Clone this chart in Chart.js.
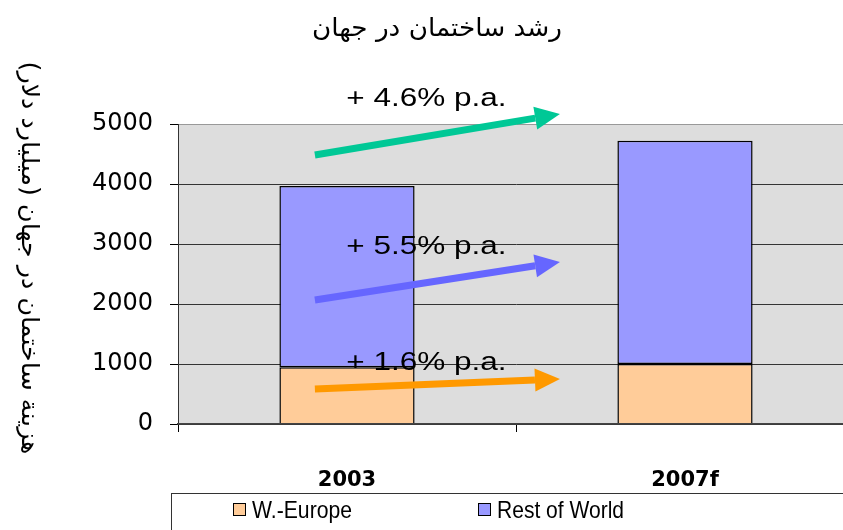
<!DOCTYPE html>
<html>
<head>
<meta charset="utf-8">
<script src="https://cdn.jsdelivr.net/npm/chart.js@4.4.1/dist/chart.umd.min.js"></script>
<style>
  html, body { margin: 0; padding: 0; background: #fff; overflow: hidden; }
  #wrap { width: 860px; height: 530px; }
</style>
</head>
<body>
<div id="wrap"><canvas id="chart" width="860" height="530"></canvas></div>
<script>
// data
const categories = ['2003', '2007f'];
const wEurope = [945, 1000];
const restOfWorld = [3020, 3720];
const yTicks = [0, 1000, 2000, 3000, 4000, 5000];
const growthLabels = ['+ 4.6% p.a.', '+ 5.5% p.a.', '+ 1.6% p.a.'];

const chartTitle = 'رشد ساختمان در جهان';
const yTitle = 'هزينة ساختمان در جهان (ميليارد دلار)';

// growth arrows, in axis units (category index, value)
const arrows = [
  { label: growthLabels[0], color: '#00C896', from: [-0.095, 4483], to: [0.63, 5167], text: [0.235, 5420] },
  { label: growthLabels[1], color: '#6666FF', from: [-0.095, 2067], to: [0.63, 2700], text: [0.235, 2950] },
  { label: growthLabels[2], color: '#FF9900', from: [-0.095, 583], to: [0.63, 750], text: [0.235, 1015] }
];

// fill the plot area grey
const plotBackground = {
  id: 'plotBackground',
  beforeDraw(chart) {
    const { ctx, chartArea: a } = chart;
    ctx.save();
    ctx.fillStyle = '#DDDDDD';
    ctx.fillRect(a.left, a.top, a.right - a.left, a.bottom - a.top);
    ctx.restore();
  }
};

// draw text squeezed/stretched to a given width
function fitText(ctx, text, x, y, width, font, rotate) {
  ctx.save();
  ctx.font = font;
  const w = ctx.measureText(text).width;
  ctx.translate(x, y);
  if (rotate) ctx.rotate(rotate);
  ctx.scale(width / w, 1);
  ctx.textAlign = 'center';
  ctx.textBaseline = 'middle';
  ctx.fillStyle = '#000';
  ctx.fillText(text, 0, 0);
  ctx.restore();
}

const growthArrows = {
  id: 'growthArrows',
  afterDatasetsDraw(chart) {
    const { ctx } = chart;
    const xs = chart.scales.x, ys = chart.scales.y;
    arrows.forEach(a => {
      const tx = xs.getPixelForValue(a.text[0]);
      const ty = ys.getPixelForValue(a.text[1]);
      ctx.save();
      ctx.font = '25px "Liberation Sans", Arial, sans-serif';
      ctx.translate(tx, ty);
      ctx.scale(1.26, 1);
      ctx.textAlign = 'center';
      ctx.textBaseline = 'middle';
      ctx.fillStyle = '#000';
      ctx.fillText(a.label, 0, 0);
      ctx.restore();

      const x1 = xs.getPixelForValue(a.from[0]), y1 = ys.getPixelForValue(a.from[1]);
      const x2 = xs.getPixelForValue(a.to[0]), y2 = ys.getPixelForValue(a.to[1]);
      const ang = Math.atan2(y2 - y1, x2 - x1);
      const head = 25, half = 11.5;
      ctx.save();
      ctx.strokeStyle = a.color;
      ctx.fillStyle = a.color;
      ctx.lineWidth = 7;
      ctx.beginPath();
      ctx.moveTo(x1, y1);
      ctx.lineTo(x2 - head * Math.cos(ang), y2 - head * Math.sin(ang));
      ctx.stroke();
      ctx.translate(x2, y2);
      ctx.rotate(ang);
      ctx.beginPath();
      ctx.moveTo(0, 0);
      ctx.lineTo(-head, -half);
      ctx.lineTo(-head, half);
      ctx.closePath();
      ctx.fill();
      ctx.restore();
    });
  }
};

const extraText = {
  id: 'extraText',
  afterDraw(chart) {
    const { ctx } = chart;
    // title and rotated y title
    fitText(ctx, chartTitle, 437, 29, 250, '25px "DejaVu Sans", sans-serif');
    fitText(ctx, yTitle, 28, 258, 393, '24px "DejaVu Sans", sans-serif', Math.PI / 2);

    // legend box, runs off the right and bottom edge
    ctx.save();
    ctx.strokeStyle = '#333';
    ctx.lineWidth = 1;
    ctx.strokeRect(171.5, 493.5, 800, 100);
    const itemX = [233, 478];
    const textW = [100, 127];
    chart.data.datasets.forEach((ds, i) => {
      ctx.fillStyle = ds.backgroundColor;
      ctx.fillRect(itemX[i] + 0.5, 503.5, 12, 12);
      ctx.strokeStyle = '#000';
      ctx.strokeRect(itemX[i] + 0.5, 503.5, 12, 12);
      ctx.save();
      ctx.font = '24px "Liberation Sans", Arial, sans-serif';
      const w = ctx.measureText(ds.label).width;
      ctx.translate(itemX[i] + 19, 511);
      ctx.scale(textW[i] / w, 1);
      ctx.textBaseline = 'middle';
      ctx.fillStyle = '#000';
      ctx.fillText(ds.label, 0, 0);
      ctx.restore();
    });
    ctx.restore();
  }
};

new Chart(document.getElementById('chart'), {
  type: 'bar',
  data: {
    labels: categories,
    datasets: [
      {
        label: 'W.-Europe',
        data: wEurope,
        backgroundColor: '#FFCC99',
        borderColor: '#000',
        borderWidth: 1.5,
        borderSkipped: 'start'
      },
      {
        label: 'Rest of World',
        data: restOfWorld,
        backgroundColor: '#9999FF',
        borderColor: '#000',
        borderWidth: 1.5,
        borderSkipped: false
      }
    ]
  },
  options: {
    responsive: false,
    animation: false,
    layout: { padding: { left: 0, top: 124, right: 6, bottom: 40 } },
    plugins: {
      legend: { display: false },
      title: { display: false },
      tooltip: { enabled: false }
    },
    datasets: {
      bar: { categoryPercentage: 0.8, barPercentage: 0.5 }
    },
    scales: {
      x: {
        stacked: true,
        afterFit: s => { s.height = 66; },
        grid: {
          drawOnChartArea: false,
          drawTicks: true,
          tickLength: 8,
          color: '#000',
          offset: true
        },
        border: { color: '#444', width: 1.5, z: 1 },
        ticks: {
          color: '#000',
          padding: 36,
          font: { family: '"DejaVu Sans", sans-serif', size: 21, weight: 'bold' }
        }
      },
      y: {
        stacked: true,
        min: 0,
        max: 5000,
        afterFit: s => { s.width = 178; },
        afterBuildTicks: s => { s.ticks = yTicks.map(v => ({ value: v })); },
        grid: {
          color: ctx => (ctx.tick && ctx.tick.value === 5000 ? '#999' : '#333'),
          tickColor: '#000',
          tickLength: 8,
          lineWidth: 1
        },
        border: { color: '#333', width: 1 },
        ticks: {
          color: '#000',
          padding: 17,
          callback: v => String(v),
          font: { family: '"DejaVu Sans", sans-serif', size: 24 }
        }
      }
    }
  },
  plugins: [plotBackground, growthArrows, extraText]
});
</script>
</body>
</html>
